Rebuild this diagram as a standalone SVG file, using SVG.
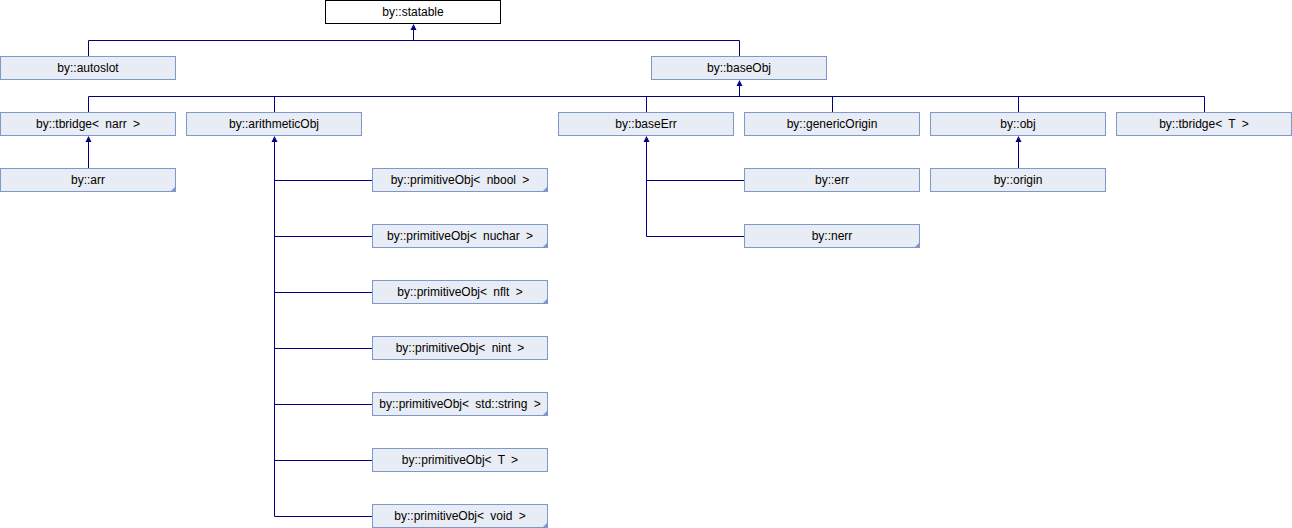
<svg xmlns="http://www.w3.org/2000/svg" width="1292" height="528" viewBox="0 0 1292 528">
<style>
.b{fill:#E8ECF4;stroke:#7F98CC;stroke-width:1}
.r{fill:#FFFFFF;stroke:#000000;stroke-width:1}
.c{fill:#7F98CC}
.t{font-family:"Liberation Sans",Arial,sans-serif;font-size:12px;fill:#000000;text-anchor:middle;word-spacing:3px}
.e{fill:none;stroke:#000080;stroke-width:1}
.a{fill:#000080}
</style>
<rect width="1292" height="528" fill="#FFFFFF"/>
<g id="connectors">
<path class="e" d="M413.5,28V40.5M88.5,40.5H739.5M88.5,40.5V56M739.5,40.5V56"/>
<polygon class="a" points="413.5,24 410.5,30 416.5,30"/>
<path class="e" d="M739.5,84V96.5M88.5,96.5H1204.5M88.5,96.5V112M274.5,96.5V112M646.5,96.5V112M832.5,96.5V112M1018.5,96.5V112M1204.5,96.5V112"/>
<polygon class="a" points="739.5,80 736.5,86 742.5,86"/>
<path class="e" d="M88.5,140V168"/>
<polygon class="a" points="88.5,136 85.5,142 91.5,142"/>
<path class="e" d="M1018.5,140V168"/>
<polygon class="a" points="1018.5,136 1015.5,142 1021.5,142"/>
<path class="e" d="M274.5,140V516.5M274.5,180.5H372M274.5,236.5H372M274.5,292.5H372M274.5,348.5H372M274.5,404.5H372M274.5,460.5H372M274.5,516.5H372"/>
<polygon class="a" points="274.5,136 271.5,142 277.5,142"/>
<path class="e" d="M646.5,140V236.5M646.5,180.5H744M646.5,236.5H744"/>
<polygon class="a" points="646.5,136 643.5,142 649.5,142"/>
</g>
<g id="statable"><rect class="r" x="325.5" y="0.5" width="175" height="23"/><text class="t" x="413" y="16">by::statable</text></g>
<g id="autoslot"><rect class="b" x="0.5" y="56.5" width="175" height="23"/><text class="t" x="88" y="72">by::autoslot</text></g>
<g id="baseObj"><rect class="b" x="651.5" y="56.5" width="175" height="23"/><text class="t" x="739" y="72">by::baseObj</text></g>
<g id="tbridge_narr"><rect class="b" x="0.5" y="112.5" width="175" height="23"/><text class="t" x="88" y="128">by::tbridge&lt; narr &gt;</text></g>
<g id="arithmeticObj"><rect class="b" x="186.5" y="112.5" width="175" height="23"/><text class="t" x="274" y="128">by::arithmeticObj</text></g>
<g id="baseErr"><rect class="b" x="558.5" y="112.5" width="175" height="23"/><text class="t" x="646" y="128">by::baseErr</text></g>
<g id="genericOrigin"><rect class="b" x="744.5" y="112.5" width="175" height="23"/><text class="t" x="832" y="128">by::genericOrigin</text></g>
<g id="obj"><rect class="b" x="930.5" y="112.5" width="175" height="23"/><text class="t" x="1018" y="128">by::obj</text></g>
<g id="tbridge_T"><rect class="b" x="1116.5" y="112.5" width="175" height="23"/><text class="t" x="1204" y="128">by::tbridge&lt; T &gt;</text></g>
<g id="arr"><rect class="b" x="0.5" y="168.5" width="175" height="23"/><polygon class="c" points="176,186 176,192 170,192"/><text class="t" x="88" y="184">by::arr</text></g>
<g id="err"><rect class="b" x="744.5" y="168.5" width="175" height="23"/><text class="t" x="832" y="184">by::err</text></g>
<g id="nerr"><rect class="b" x="744.5" y="224.5" width="175" height="23"/><polygon class="c" points="920,242 920,248 914,248"/><text class="t" x="832" y="240">by::nerr</text></g>
<g id="origin"><rect class="b" x="930.5" y="168.5" width="175" height="23"/><text class="t" x="1018" y="184">by::origin</text></g>
<g id="prim_nbool"><rect class="b" x="372.5" y="168.5" width="175" height="23"/><polygon class="c" points="548,186 548,192 542,192"/><text class="t" x="460" y="184">by::primitiveObj&lt; nbool &gt;</text></g>
<g id="prim_nuchar"><rect class="b" x="372.5" y="224.5" width="175" height="23"/><polygon class="c" points="548,242 548,248 542,248"/><text class="t" x="460" y="240">by::primitiveObj&lt; nuchar &gt;</text></g>
<g id="prim_nflt"><rect class="b" x="372.5" y="280.5" width="175" height="23"/><polygon class="c" points="548,298 548,304 542,304"/><text class="t" x="460" y="296">by::primitiveObj&lt; nflt &gt;</text></g>
<g id="prim_nint"><rect class="b" x="372.5" y="336.5" width="175" height="23"/><text class="t" x="460" y="352">by::primitiveObj&lt; nint &gt;</text></g>
<g id="prim_string"><rect class="b" x="372.5" y="392.5" width="175" height="23"/><polygon class="c" points="548,410 548,416 542,416"/><text class="t" x="460" y="408">by::primitiveObj&lt; std::string &gt;</text></g>
<g id="prim_T"><rect class="b" x="372.5" y="448.5" width="175" height="23"/><text class="t" x="460" y="464">by::primitiveObj&lt; T &gt;</text></g>
<g id="prim_void"><rect class="b" x="372.5" y="504.5" width="175" height="23"/><polygon class="c" points="548,522 548,528 542,528"/><text class="t" x="460" y="520">by::primitiveObj&lt; void &gt;</text></g>
</svg>
